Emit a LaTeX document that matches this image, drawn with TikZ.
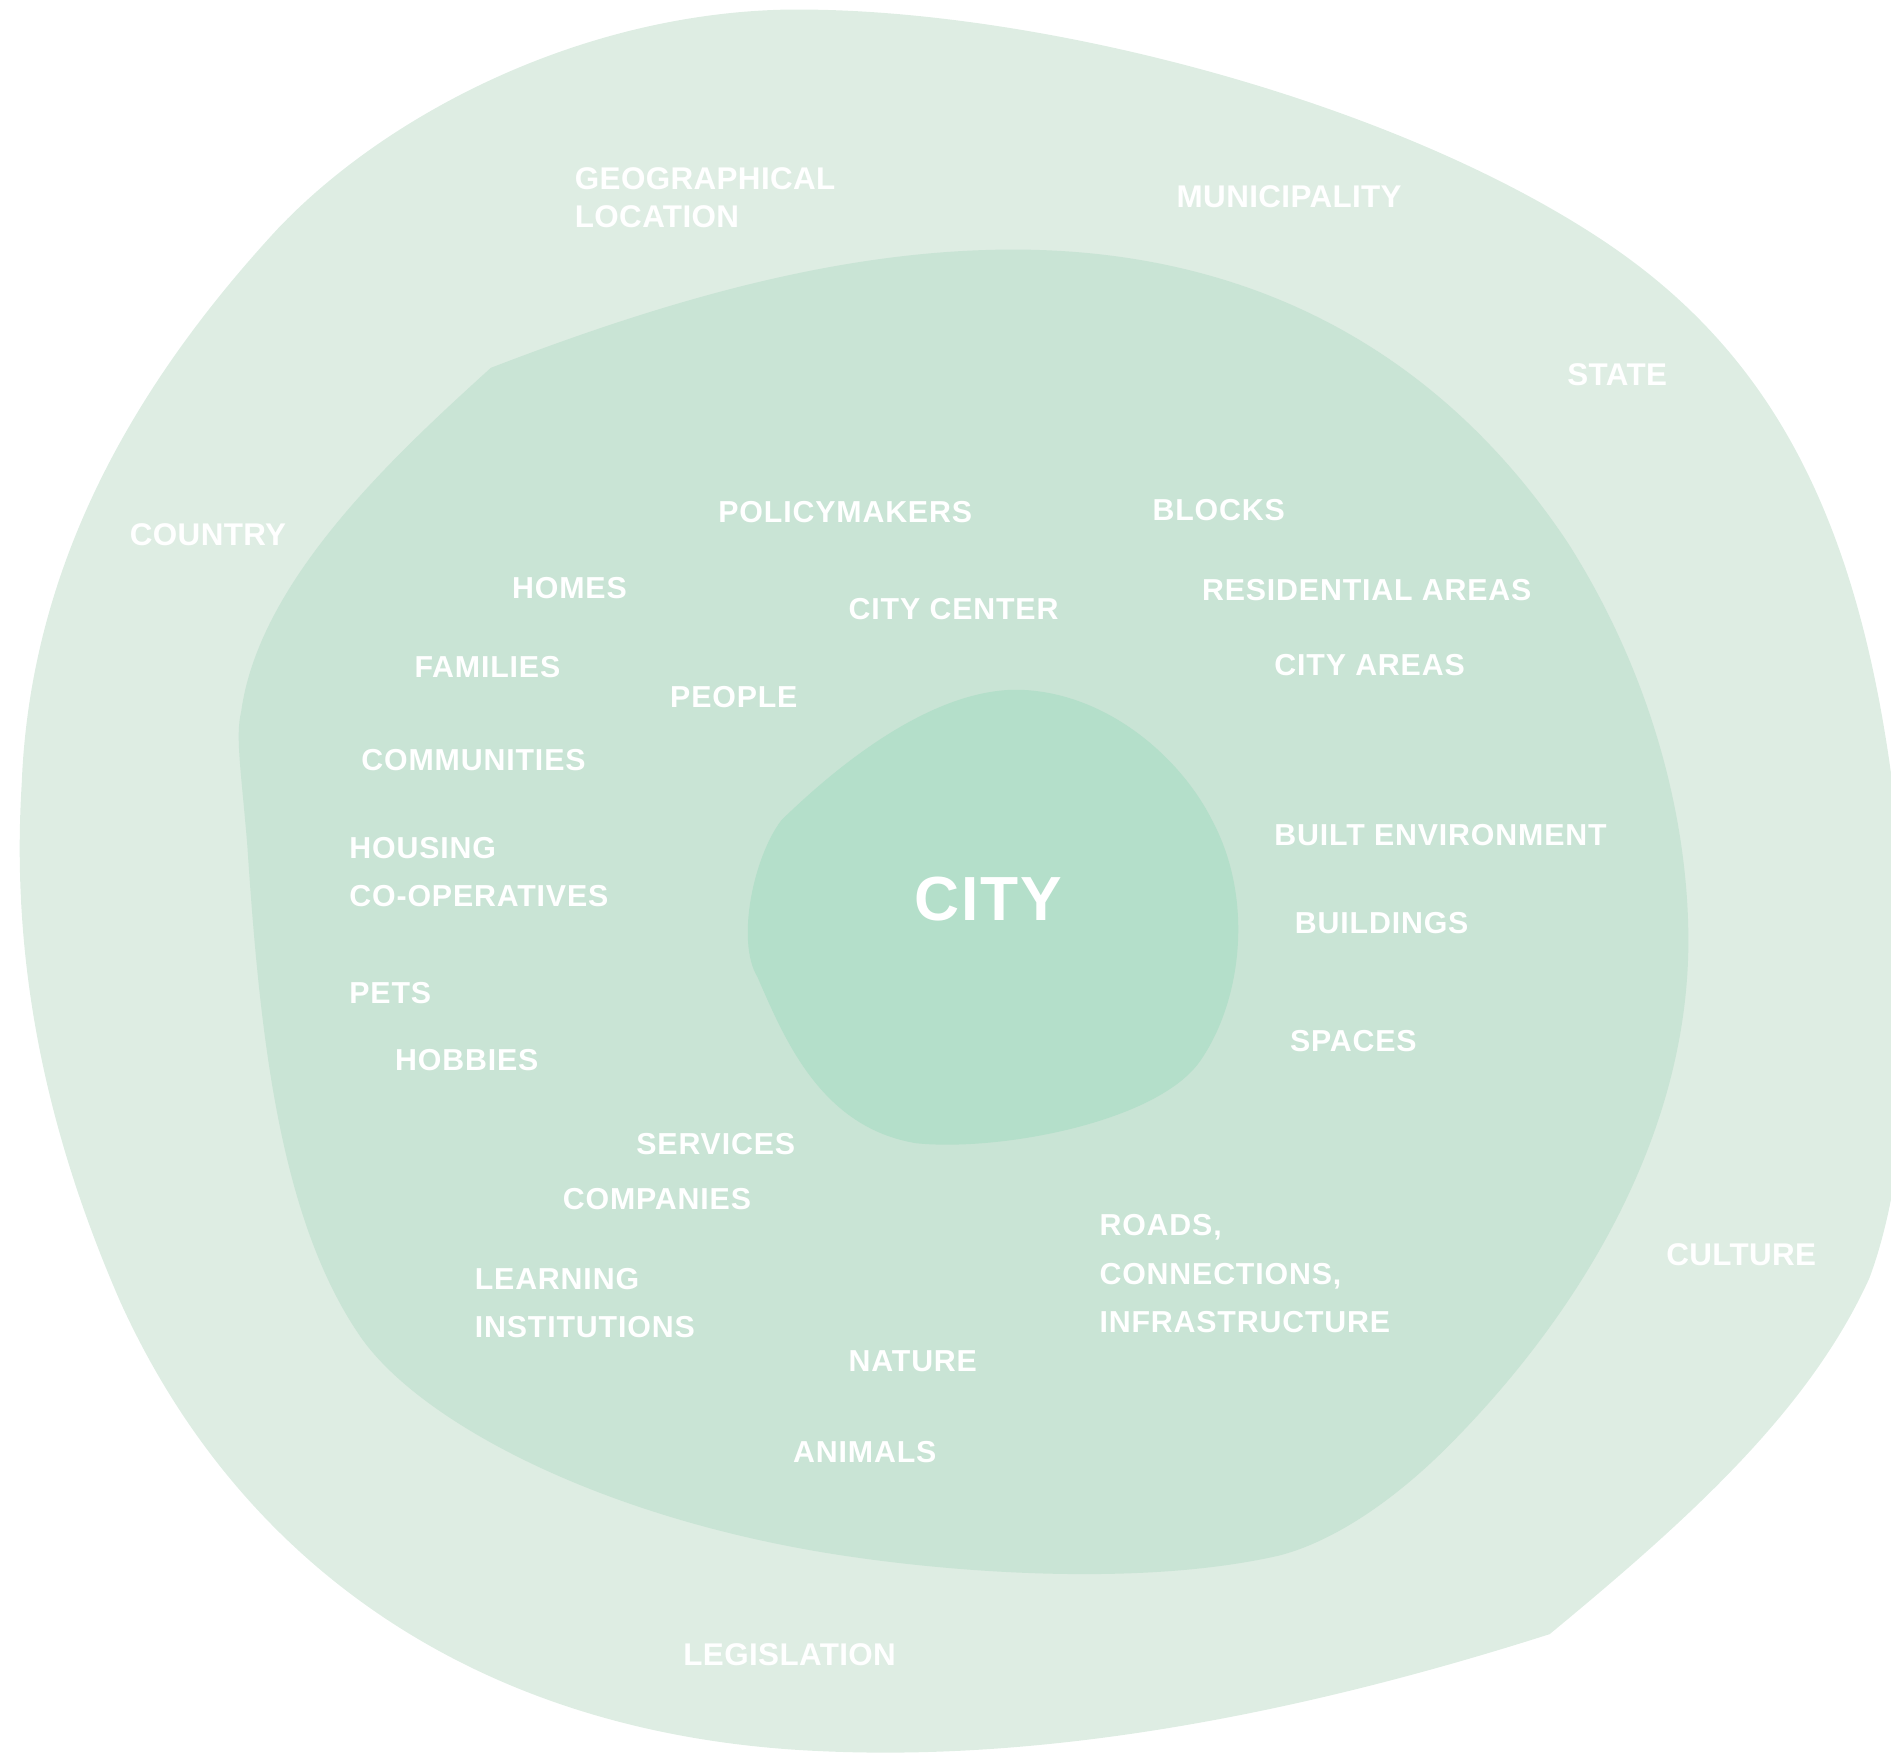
\documentclass[tikz,border=0pt]{standalone}
\usepackage{fontspec}
\setmainfont{Liberation Sans}
\definecolor{outerc}{RGB}{222,237,227}
\definecolor{midc}{RGB}{201,228,213}
\definecolor{innerc}{RGB}{180,223,202}
\tikzset{
  lbl/.style={anchor=base west, inner sep=0pt, text=white, align=left,
    font={\fontsize{7.15}{11.4}\selectfont\bfseries\addfontfeature{LetterSpace=2.8}}},
  olbl/.style={anchor=base west, inner sep=0pt, text=white, align=left,
    font={\fontsize{7.4}{9.1}\selectfont\bfseries\addfontfeature{LetterSpace=1.2}}},
  citylbl/.style={anchor=base west, inner sep=0pt, text=white,
    font={\fontsize{14.7}{16}\selectfont\bfseries\addfontfeature{LetterSpace=2.5}}}
}
\begin{document}
\begin{tikzpicture}[x=0.01cm,y=-0.01cm]
\useasboundingbox (0,0) rectangle (1568,1454);
\clip (0,0) rectangle (1568,1454);
% outer region
\fill[outerc] (650,8)
 .. controls (850,5) and (1150,80) .. (1330,200)
 .. controls (1480,300) and (1550,450) .. (1575,700)
 .. controls (1590,850) and (1580,980) .. (1550,1060)
 .. controls (1500,1170) and (1400,1260) .. (1285,1355)
 .. controls (1050,1430) and (850,1460) .. (680,1452)
 .. controls (400,1440) and (200,1300) .. (100,1080)
 .. controls (30,920) and (10,780) .. (18,650)
 .. controls (25,470) and (110,320) .. (230,190)
 .. controls (320,95) and (480,12) .. (650,8) -- cycle;
% middle region
\fill[midc] (407,305)
 .. controls (550,250) and (700,205) .. (850,207)
 .. controls (1050,210) and (1200,300) .. (1300,450)
 .. controls (1370,560) and (1400,680) .. (1400,780)
 .. controls (1400,950) and (1300,1100) .. (1200,1200)
 .. controls (1150,1250) and (1100,1280) .. (1060,1290)
 .. controls (950,1315) and (800,1305) .. (700,1290)
 .. controls (500,1260) and (350,1180) .. (300,1110)
 .. controls (230,1010) and (215,850) .. (205,700)
 .. controls (200,640) and (195,610) .. (200,590)
 .. controls (215,480) and (330,375) .. (407,305) -- cycle;
% inner region
\fill[innerc] (648,680)
 .. controls (720,610) and (790,570) .. (847,572)
 .. controls (920,575) and (980,630) .. (1005,680)
 .. controls (1040,745) and (1030,830) .. (995,880)
 .. controls (960,930) and (830,955) .. (760,948)
 .. controls (680,935) and (650,860) .. (628,810)
 .. controls (610,780) and (625,710) .. (648,680) -- cycle;
% outer labels (multi-line nodes: base = last line)
\node[olbl] (geo) at (476,189) {GEOGRAPHICAL\\LOCATION};
\node[olbl] (mun) at (975,172) {MUNICIPALITY};
\node[olbl] (state) at (1299,320) {STATE};
\node[olbl] (country) at (107,452) {COUNTRY};
\node[olbl] (culture) at (1381,1049) {CULTURE};
\node[olbl] (legis) at (566,1381) {LEGISLATION};
% inner labels
\node[lbl] (policy) at (595,433) {POLICYMAKERS};
\node[lbl] (blocks) at (955,432) {BLOCKS};
\node[lbl] (homes) at (424,496) {HOMES};
\node[lbl] (center) at (703,514) {CITY CENTER};
\node[lbl] (resid) at (996,498) {RESIDENTIAL AREAS};
\node[lbl] (families) at (343,562) {FAMILIES};
\node[lbl] (people) at (555,587) {PEOPLE};
\node[lbl] (areas) at (1056,560) {CITY AREAS};
\node[lbl] (comm) at (299,639) {COMMUNITIES};
\node[lbl] (built) at (1056,701) {BUILT ENVIRONMENT};
\node[lbl] (housing) at (289,752) {HOUSING\\CO-OPERATIVES};
\node[lbl] (buildings) at (1073,774) {BUILDINGS};
\node[lbl] (pets) at (289,832) {PETS};
\node[lbl] (hobbies) at (327,888) {HOBBIES};
\node[lbl] (spaces) at (1069,872) {SPACES};
\node[lbl] (services) at (527,957) {SERVICES};
\node[lbl] (companies) at (466,1003) {COMPANIES};
\node[lbl] (roads) at (911,1105) {ROADS,\\CONNECTIONS,\\INFRASTRUCTURE};
\node[lbl] (learning) at (393,1109) {LEARNING\\INSTITUTIONS};
\node[lbl] (nature) at (703,1137) {NATURE};
\node[lbl] (animals) at (657,1213) {ANIMALS};
\node[citylbl] (city) at (758,763) {CITY};
\end{tikzpicture}
\end{document}
